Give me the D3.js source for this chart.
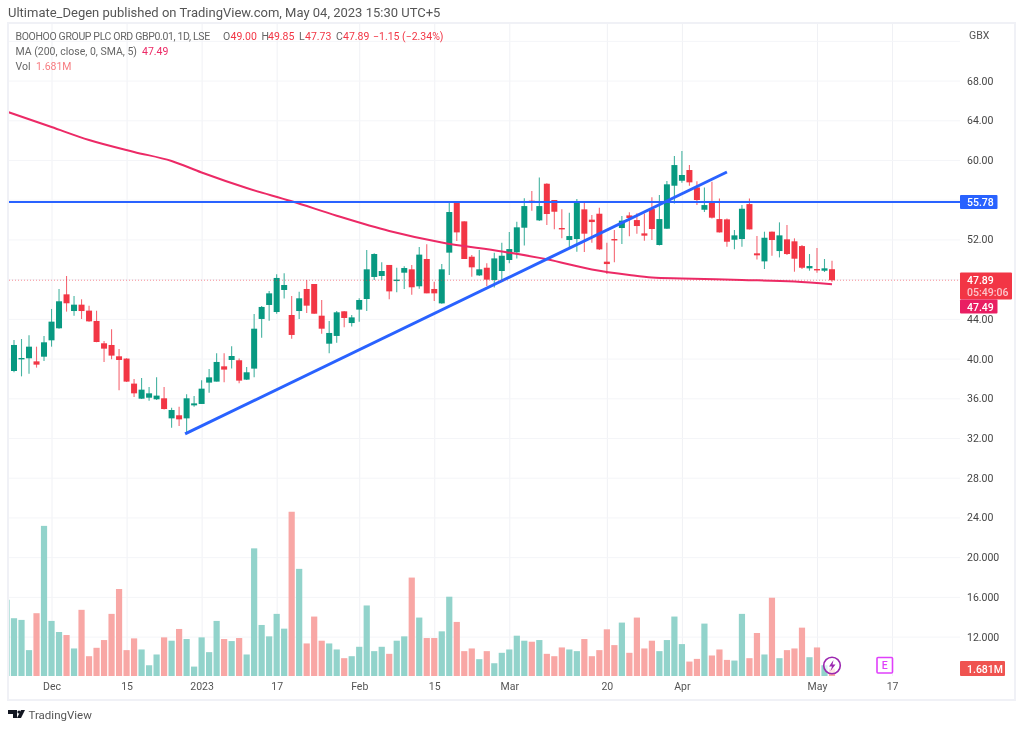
<!DOCTYPE html>
<html>
<head>
<meta charset="utf-8">
<script src="https://cdnjs.cloudflare.com/ajax/libs/d3/7.8.5/d3.min.js"></script>
<style>
html, body { margin: 0; padding: 0; background: #fff; overflow: hidden; }
svg { display: block; filter: blur(0.3px); }
text { font-family: Roboto, sans-serif; }
</style>
</head>
<body>
<svg id="chart" width="1024" height="730"></svg>
<script>
const opens = [38.75,39.96,40.03,39.72,40.19,41.84,43.05,46.47,44.79,45.43,44.83,43.79,41.54,41.37,40.23,40.0,37.48,35.96,36.06,35.90,36.0,33.98,34.29,33.98,35.29,35.43,37.58,37.68,39.22,39.86,39.83,37.88,38.99,43.99,45.40,44.69,46.91,44.39,44.79,47.01,47.51,44.32,41.50,42.28,44.76,43.58,44.93,46.0,48.22,48.32,49.43,47.81,48.65,48.99,47.28,50.03,47.01,45.56,50.67,55.77,53.82,50.26,48.38,49.15,47.91,48.82,49.93,50.70,53.18,55.90,53.92,57.61,55.97,53.15,51.94,52.04,55.03,53.99,54.59,49.76,52.04,53.15,54.42,53.95,52.61,55.06,51.44,53.08,57.41,57.91,58.99,57.24,54.99,55.87,54.05,54.02,51.97,52.04,55.56,50.60,49.79,52.78,50.83,52.01,51.81,51.33,49.09,49.02,48.85,49.00];
const highs = [41.87,41.97,42.34,41.20,42.28,45.0,47.01,48.32,46.30,45.97,45.33,44.83,41.77,42.95,40.97,40.03,37.95,38.05,37.14,38.11,37.14,35.06,35.16,36.40,36.23,37.81,38.95,40.53,40.53,41.24,40.0,39.15,44.49,45.30,46.81,48.49,48.59,46.30,46.74,47.92,47.51,45.90,43.79,44.79,44.79,44.39,46.07,50.94,50.6,49.69,49.43,49.16,49.29,49.43,51.24,51.51,47.75,49.53,55.80,55.77,53.82,50.43,50.93,49.59,50.67,51.67,52.75,53.79,56.14,56.88,58.25,57.65,55.97,55.03,54.69,56.07,55.73,54.46,55.20,51.67,52.95,54.36,54.73,54.63,54.62,56.24,56.47,57.88,60.40,60.90,59.49,57.85,57.24,57.81,56.13,54.12,52.95,55.46,56.13,52.34,52.78,52.81,53.72,53.45,52.11,51.44,50.53,51.13,50.03,49.85];
const lows = [38.62,38.21,38.48,39.09,39.76,41.2,43.01,44.73,44.32,43.99,43.72,41.64,39.66,39.93,36.80,37.64,36.13,35.93,35.76,35.83,34.86,33.04,33.21,32.54,35.16,35.43,36.57,37.68,37.61,38.99,37.51,37.85,38.11,42.11,43.82,44.52,46.04,42.0,43.99,44.59,44.52,42.51,40.53,41.60,43.15,43.22,43.72,44.79,47.91,47.91,45.97,46.67,47.01,46.44,47.04,46.57,45.80,45.53,48.42,51.84,50.03,48.25,48.32,47.31,47.17,47.74,49.59,50.09,51.40,54.89,53.85,53.45,53.02,52.11,51.20,50.77,50.73,51.67,50.93,48.52,49.69,51.54,52.31,52.58,51.87,51.94,51.40,53.05,55.63,57.71,57.41,55.46,54.76,54.12,52.71,51.27,51.0,51.27,53.01,49.99,49.02,50.36,50.19,50.43,48.75,49.02,48.85,48.65,48.72,47.73];
const closes = [41.37,40.06,41.20,39.39,41.64,43.72,45.77,45.57,45.43,44.79,43.75,41.67,41.0,40.30,39.86,37.68,36.50,36.87,36.50,36.27,34.92,34.82,33.88,36.0,35.49,36.97,38.11,39.66,38.89,40.26,37.78,38.62,43.01,45.2,46.57,48.12,47.41,42.38,46.07,45.33,44.52,43.01,42.58,44.66,44.09,44.15,45.90,48.99,50.53,48.82,46.77,47.95,49.12,47.18,50.47,46.57,46.57,48.99,54.76,52.71,50.03,49.19,48.99,47.95,50.09,50.36,51.03,53.22,55.36,55.73,55.36,54.56,54.79,53.05,52.34,55.77,52.58,53.75,51.0,49.52,51.94,53.89,54.16,53.35,52.38,53.05,54.05,57.55,59.49,58.49,57.75,55.97,55.46,54.19,52.71,51.77,52.41,55.09,53.01,50.40,52.17,51.94,52.41,50.53,50.06,49.15,49.32,48.92,49.09,47.89];
const volumes = [13.13,12.75,5.88,14.27,34.12,12.52,10.0,9.31,6.26,15.04,4.5,6.41,8.17,14.12,19.77,5.88,8.55,6.03,2.44,4.89,8.78,8.02,10.69,8.4,2.14,8.78,5.42,12.52,8.4,7.94,8.63,4.89,29.01,11.6,9.01,14.12,10.76,37.33,24.35,7.4,13.51,8.02,7.4,6.03,4.05,4.5,6.64,16.03,5.65,6.64,5.04,8.02,9.01,22.37,13.28,8.63,8.63,10.15,18.02,12.29,5.65,6.26,3.82,5.65,2.9,5.27,6.03,9.16,8.02,7.79,8.17,5.04,4.5,6.49,6.03,5.65,8.4,4.5,5.88,10.61,7.02,12.14,5.27,13.28,6.26,8.02,5.65,8.17,13.51,7.25,3.28,3.89,11.91,4.66,6.03,3.66,3.51,14.12,4.05,9.77,4.89,17.79,4.05,5.88,6.26,10.99,4.27,6.49,2.44,1.681];
const volBefore = 17.33; // bar cut off by the left edge

const maBars = [-1,5,10,16,21,25,31,37,43,50,57,65,71,77,82,85,89,97,104,109];
const maVals = [64.88,63.32,62.01,60.81,59.9,58.74,57.18,55.84,54.39,52.85,51.69,50.79,50.0,48.97,48.42,48.17,48.07,47.92,47.76,47.49];

const timeTicks = [5,15,25,35,46,56,66,79,89,107,117];
const timeLabels = ["Dec","15","2023","17","Feb","15","Mar","20","Apr","May","17"];
const priceGrid = [72,68,64,60,56,52,48,44,40,36,32,28,24,20,16,12];
const priceLabels = ["68.00","64.00","60.00","52.00","44.00","40.00","36.00","32.00","28.00","24.00","20.000","16.000","12.000"];
const priceLabelVals = [68,64,60,52,44,40,36,32,28,24,20,16,12];

const hLine = 55.78, lastClose = 47.89, lastMa = 47.49;
const trendBars = [22.8,95], trendVals = [32.41,58.79];

const green = "#089981", red = "#f23645", blue = "#2962ff", pink = "#ec2a66";
const plotL = 9, plotR = 960, plotT = 24, plotB = 676;
const labelSize = 10.5;

const svg = d3.select("#chart");
const x = d3.scaleLinear().domain([0,109]).range([14,832]);
const y = d3.scaleLinear().domain([60,12]).range([160,636.6]);
const vy = d3.scaleLinear().domain([0,40]).range([plotB,plotB-176]);

svg.append("clipPath").attr("id","plot").append("rect")
    .attr("x",plotL).attr("y",plotT).attr("width",plotR-plotL).attr("height",plotB-plotT);

// grid lines through the axes
const gridX = svg.append("g")
    .attr("transform",`translate(0,${plotB})`)
    .call(d3.axisBottom(x).tickValues(timeTicks)
        .tickSize(-(plotB-plotT)).tickPadding(7)
        .tickFormat((d,i) => timeLabels[i]));
gridX.select(".domain").remove();
gridX.selectAll("line").attr("stroke","#f0f1f5");
gridX.selectAll("text").attr("fill","#555").attr("font-size",labelSize)
    .style("font-family","Roboto,sans-serif");

const gridY = svg.append("g")
    .attr("transform",`translate(${plotL},0)`)
    .call(d3.axisRight(y).tickValues(priceGrid).tickSize(plotR-plotL).tickFormat(""));
gridY.select(".domain").remove();
gridY.selectAll("line").attr("stroke","#f4f5f8");

// frame
svg.append("path")
    .attr("d",`M8 23H1015V700H8Z`)
    .attr("fill","none").attr("stroke","#f0f1f6").attr("stroke-width",2);

const plot = svg.append("g").attr("clip-path","url(#plot)");

// volume
const volData = volumes.map((v,i) => ({i,v,up:closes[i]>=opens[i]}));
volData.unshift({i:-1,v:volBefore,up:true});
plot.selectAll(".vol").data(volData).join("rect")
    .attr("class","vol")
    .attr("x",d => x(d.i)-3.1)
    .attr("width",6.2)
    .attr("y",d => vy(d.v))
    .attr("height",d => plotB-vy(d.v))
    .attr("fill",d => d.up ? "#92d3cb" : "#f8a7a5");

// last price dotted line
svg.append("line")
    .attr("x1",plotL).attr("x2",plotR)
    .attr("y1",y(lastClose)).attr("y2",y(lastClose))
    .attr("stroke",red).attr("stroke-opacity",.55)
    .attr("stroke-dasharray","1 2");

// candles
const candles = plot.selectAll(".candle").data(opens).join("g").attr("class","candle");
const col = (d,i) => closes[i]>=opens[i] ? green : red;
candles.append("line")
    .attr("x1",(d,i) => x(i)).attr("x2",(d,i) => x(i))
    .attr("y1",(d,i) => y(highs[i])).attr("y2",(d,i) => y(lows[i]))
    .attr("stroke",col).attr("stroke-width",1.1).attr("stroke-opacity",.75);
candles.append("rect")
    .attr("x",(d,i) => x(i)-3)
    .attr("width",6)
    .attr("y",(d,i) => y(Math.max(opens[i],closes[i])))
    .attr("height",(d,i) => Math.max(1.4,Math.abs(y(opens[i])-y(closes[i]))))
    .attr("fill",col);

// moving average
const maLine = d3.line()
    .x((d,i) => x(maBars[i]))
    .y(d => y(d))
    .curve(d3.curveMonotoneX);
plot.append("path").datum(maVals)
    .attr("d",maLine)
    .attr("fill","none").attr("stroke",pink).attr("stroke-width",2);

// drawings
svg.append("line")
    .attr("x1",plotL).attr("x2",plotR)
    .attr("y1",y(hLine)).attr("y2",y(hLine))
    .attr("stroke",blue).attr("stroke-width",2);
plot.append("line")
    .attr("x1",x(trendBars[0])).attr("x2",x(trendBars[1]))
    .attr("y1",y(trendVals[0])).attr("y2",y(trendVals[1]))
    .attr("stroke",blue).attr("stroke-width",3);

// price scale
svg.selectAll(".plab").data(priceLabels).join("text")
    .attr("class","plab")
    .attr("x",967)
    .attr("y",(d,i) => y(priceLabelVals[i])+4)
    .attr("font-size",labelSize).attr("fill","#444")
    .text(d => d);
svg.append("text").attr("x",969).attr("y",39).attr("font-size",labelSize).attr("fill","#555").text("GBX");

function tag(x0,w,y0,h,fill){
    svg.append("rect").attr("x",x0).attr("y",y0).attr("width",w).attr("height",h)
        .attr("rx",1).attr("fill",fill);
}
function tagText(tx,ty,str,c){
    svg.append("text").attr("x",tx).attr("y",ty).attr("font-size",labelSize)
        .attr("font-weight",500).attr("fill",c||"#fff").text(str);
}
tag(960,37.5,195,14,blue);
tagText(967,206,"55.78");
tag(960,52,272.5,27,red);
tagText(967,284,"47.89");
tagText(967,296,"05:49:06","#fcc5ca");
tag(960,37.5,299.5,14,"#e91e63");
tagText(967,310.5,"47.49");
tag(960,45,661,15,"#ef5350");
tagText(967,672.5,"1.681M");

// header and legend
svg.append("text").attr("x",8).attr("y",17).attr("font-size",13).attr("fill","#555")
    .text("Ultimate_Degen published on TradingView.com, May 04, 2023 15:30 UTC+5");

function legendText(tx,ty,str,c){
    return svg.append("text").attr("x",tx).attr("y",ty).attr("font-size",labelSize).attr("fill",c).text(str);
}
legendText(15.5,39.5,"BOOHOO GROUP PLC ORD GBP0.01, 1D, LSE","#666").attr("letter-spacing",-0.35);
legendText(223,39.5,"O","#666");
legendText(230.5,39.5,"49.00",red);
legendText(261.5,39.5,"H","#666");
legendText(268,39.5,"49.85",red);
legendText(299,39.5,"L","#666");
legendText(305,39.5,"47.73",red);
legendText(336,39.5,"C","#666");
legendText(343,39.5,"47.89",red);
legendText(373,39.5,"−1.15 (−2.34%)",red);
legendText(15.5,54.5,"MA (200, close, 0, SMA, 5)","#666");
legendText(142,54.5,"47.49",pink);
legendText(15.5,69.5,"Vol","#666");
legendText(36,69.5,"1.681M","#f77c80");

// event icons
svg.append("circle").attr("cx",832).attr("cy",665.5).attr("r",8.3)
    .attr("fill","#fff").attr("fill-opacity",.7).attr("stroke","#9c27b0").attr("stroke-width",1.6);
svg.append("path").attr("d","M833.5 660L829 666.5H832L830.5 671L835.5 664.5H832.5Z").attr("fill","#9c27b0");
svg.append("rect").attr("x",877).attr("y",657.5).attr("width",15.5).attr("height",15.5).attr("rx",1)
    .attr("fill","#fff").attr("stroke","#e040fb").attr("stroke-width",1.6);
svg.append("text").attr("x",884.7).attr("y",669).attr("text-anchor","middle").attr("font-size",10.5)
    .attr("font-weight",500).attr("fill","#e040fb").text("E");

// logo
svg.append("path").attr("d","M8 710H17V718H13V714H8ZM21 710H25L21 718H17Z").attr("fill","#131722");
svg.append("circle").attr("cx",19).attr("cy",712).attr("r",1.6).attr("fill","#131722");
svg.append("text").attr("x",28.5).attr("y",718.5).attr("font-size",11.5).attr("fill","#555").text("TradingView");
</script>
</body>
</html>
